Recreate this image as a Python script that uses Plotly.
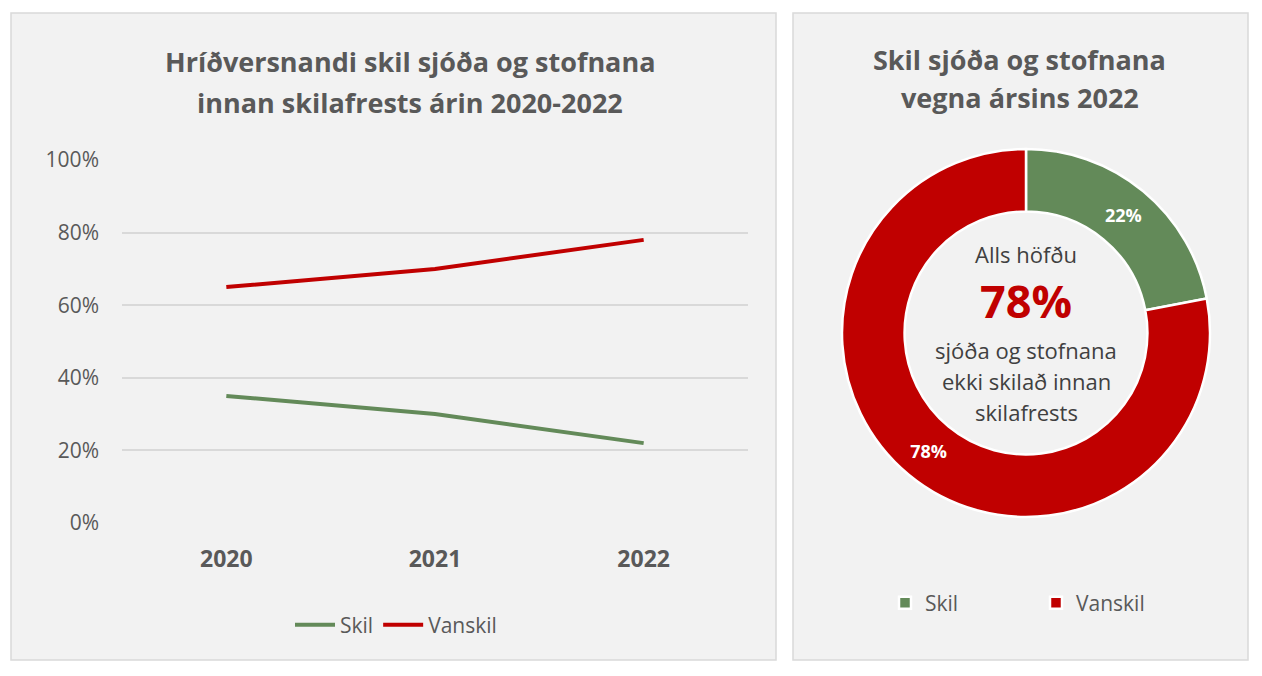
import plotly.graph_objects as go

years = ["2020", "2021", "2022"]
skil = [0.35, 0.30, 0.22]
vanskil = [0.65, 0.70, 0.78]
pie_labels = ["Skil", "Vanskil"]
pie_values = [22, 78]
y_ticks = [0, 0.2, 0.4, 0.6, 0.8, 1.0]
y_ticktext = ["0%", "20%", "40%", "60%", "80%", "100%"]

GREEN = "#638A59"
RED = "#C00000"
TXT = "#595959"
DARK = "#404040"
FONT = "Segoe UI, Open Sans, sans-serif"
OFF = 8  # browser body margin
W, H = 1262 - 2 * OFF, 676 - 2 * OFF


def px(x):
    return (x - OFF) / W


def py(y):
    return 1 - (y - OFF) / H


fig = go.Figure()
xs = list(range(len(years)))
fig.add_trace(go.Scatter(x=xs, y=skil, mode="lines", name="Skil",
                         line=dict(color=GREEN, width=4), legend="legend"))
fig.add_trace(go.Scatter(x=xs, y=vanskil, mode="lines", name="Vanskil",
                         line=dict(color=RED, width=4), legend="legend"))
fig.add_trace(go.Pie(labels=pie_labels, values=pie_values, hole=0.66, sort=False,
                     direction="clockwise", rotation=0,
                     marker=dict(colors=[GREEN, RED], line=dict(color="white", width=2.5)),
                     texttemplate="%{percent:.0%}", textposition="inside",
                     insidetextorientation="horizontal",
                     textfont=dict(color="white", size=18, family=FONT, weight="bold"),
                     domain=dict(x=[px(842), px(1210)], y=[py(517), py(149)]),
                     legend="legend2", showlegend=True))

shapes = [
    dict(type="rect", xref="paper", yref="paper", x0=px(11), x1=px(776), y0=py(660), y1=py(13),
         fillcolor="#F2F2F2", line=dict(color="#D9D9D9", width=1.5), layer="below"),
    dict(type="rect", xref="paper", yref="paper", x0=px(793), x1=px(1248), y0=py(660), y1=py(13),
         fillcolor="#F2F2F2", line=dict(color="#D9D9D9", width=1.5), layer="below"),
]


def ann(text, x, y, size, color, bold=False):
    return dict(text=text, x=px(x), y=py(y), xref="paper", yref="paper", showarrow=False,
                xanchor="center", yanchor="middle", align="center",
                font=dict(size=size, color=color, family=FONT, weight="bold" if bold else "normal"))


cx = 1026
annotations = [
    ann("Hríðversnandi skil sjóða og stofnana", 410, 62, 27, TXT, True),
    ann("innan skilafrests árin 2020-2022", 410, 102, 27, TXT, True),
    ann("Skil sjóða og stofnana", 1020, 59, 27, TXT, True),
    ann("vegna ársins 2022", 1020, 97, 27, TXT, True),
    ann("Alls höfðu", cx, 254, 22, DARK),
    ann("78%", cx, 300, 45, RED, True),
    ann("sjóða og stofnana", cx, 350, 22, DARK),
    ann("ekki skilað innan", cx, 381, 22, DARK),
    ann("skilafrests", cx, 412, 22, DARK),
]

fig.update_layout(
    width=W, height=H,
    margin=dict(l=0, r=0, t=0, b=0, autoexpand=False),
    paper_bgcolor="white", plot_bgcolor="rgba(0,0,0,0)",
    font=dict(family=FONT, color=TXT),
    shapes=shapes, annotations=annotations,
    xaxis=dict(domain=[px(122), px(748)], range=[-0.5, 2.5], tickvals=xs, ticktext=years,
               showgrid=False, zeroline=False, showline=False, ticks="", automargin=False,
               tickfont=dict(size=23, color=TXT, family=FONT, weight="bold"), ticklabelstandoff=20),
    yaxis=dict(domain=[py(523), py(160)], range=[0, 1.0], tickvals=y_ticks, ticktext=y_ticktext,
               showgrid=True, gridcolor="#D9D9D9", gridwidth=1.5, zeroline=False, showline=False,
               automargin=False,
               tickfont=dict(size=21, color=TXT, family=FONT), ticklabelstandoff=22),
    legend=dict(orientation="h", x=px(396), y=py(625), xanchor="center", yanchor="middle",
                font=dict(size=21, color=TXT, family=FONT), bgcolor="rgba(0,0,0,0)",
                itemwidth=40, traceorder="normal"),
    legend2=dict(orientation="h", x=px(1036), y=py(603), xanchor="center", yanchor="middle",
                 font=dict(size=21, color=TXT, family=FONT), bgcolor="rgba(0,0,0,0)",
                 entrywidth=106),
    showlegend=True,
)

fig.write_html("out.html")
